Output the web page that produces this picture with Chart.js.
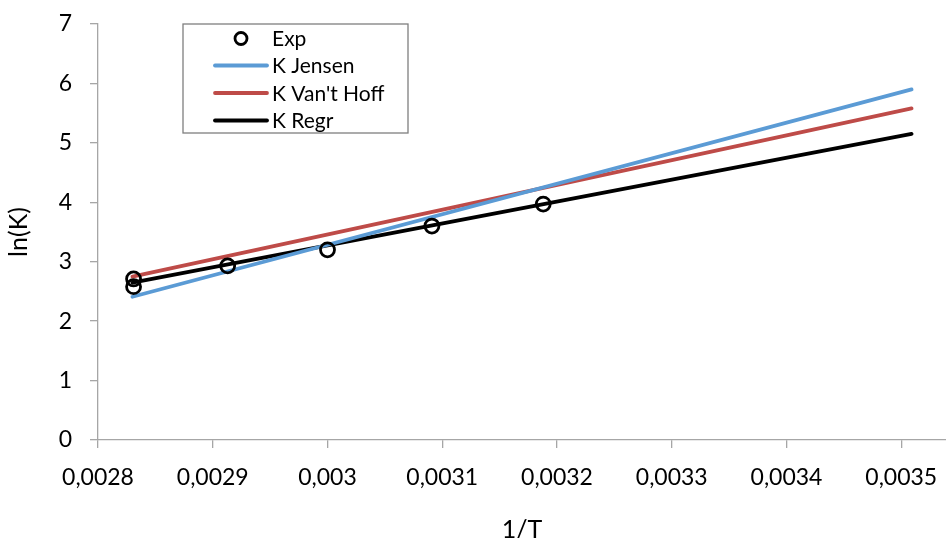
<!DOCTYPE html>
<html>
<head>
<meta charset="utf-8">
<script src="https://cdn.jsdelivr.net/npm/chart.js@4.4.1/dist/chart.umd.min.js"></script>
<style>
  html, body { margin: 0; padding: 0; background: #fff; }
  #wrap { width: 946px; height: 538px; position: relative; }
</style>
</head>
<body>
<div id="wrap"><canvas id="kChart"></canvas></div>
<script>
// measured points
const expX = [0.002831, 0.002831, 0.002913, 0.003, 0.003091, 0.003188];
const expY = [2.71, 2.58, 2.93, 3.20, 3.60, 3.97];

// fitted lines, evaluated at both ends of the range
const fitX      = [0.00283, 0.003509];
const jensenY   = [2.41, 5.90];
const vantHoffY = [2.75, 5.58];
const regrY     = [2.65, 5.15];

const xMin = 0.0028, xMax = 0.003539, xStep = 0.0001;
const yMin = 0, yMax = 7, yStep = 1;

const FONT = "Lato";
const AXIS_GREY = "#a6a6a6";

const pts = (xs, ys) => xs.map((x, i) => ({ x, y: ys[i] }));

function lineSet(label, color, ys) {
  return {
    label,
    data: pts(fitX, ys),
    borderColor: color,
    backgroundColor: color,
    borderWidth: 3.8,
    pointRadius: 0,
    showLine: true,
    borderCapStyle: "round",
    tension: 0,
  };
}

// legend drawn as a framed box inside the plot area
const boxLegend = {
  id: "boxLegend",
  afterDraw(chart) {
    const ctx = chart.ctx;
    const box = { x: 183, y: 24, w: 225, h: 109 };
    const rowY = [38.5, 65.5, 93, 120.5];
    ctx.save();
    ctx.fillStyle = "#fff";
    ctx.fillRect(box.x, box.y, box.w, box.h);
    ctx.strokeStyle = "#7f7f7f";
    ctx.lineWidth = 1.3;
    ctx.strokeRect(box.x, box.y, box.w, box.h);
    chart.data.datasets.forEach((ds, i) => {
      const y = rowY[i];
      if (ds.showLine) {
        ctx.strokeStyle = ds.borderColor;
        ctx.lineWidth = ds.borderWidth;
        ctx.lineCap = "round";
        ctx.beginPath();
        ctx.moveTo(215, y);
        ctx.lineTo(267, y);
        ctx.stroke();
      } else {
        ctx.strokeStyle = ds.borderColor;
        ctx.lineWidth = 2.8;
        ctx.beginPath();
        ctx.arc(241, y, 6, 0, Math.PI * 2);
        ctx.stroke();
      }
      ctx.fillStyle = "#000";
      ctx.font = `21px ${FONT}`;
      ctx.textBaseline = "middle";
      ctx.fillText(ds.label, 272, y + 1);
    });
    ctx.restore();
  },
};

const fmtTick = v => parseFloat(v.toFixed(4)).toString().replace(".", ",");

// keep the plot area flush with the canvas edges
const noEdgePad = s => {
  s.paddingLeft = 0; s.paddingRight = 0;
  s.paddingTop = 0;  s.paddingBottom = 0;
};

new Chart(document.getElementById("kChart").getContext("2d"), {
  type: "scatter",
  data: {
    datasets: [
      {
        label: "Exp",
        data: pts(expX, expY),
        showLine: false,
        borderColor: "#000",
        backgroundColor: "rgba(0,0,0,0)",
        borderWidth: 2.8,
        pointRadius: 7,
        pointStyle: "circle",
      },
      lineSet("K Jensen",     "#5b9bd5", jensenY),
      lineSet("K Van't Hoff", "#be4b48", vantHoffY),
      lineSet("K Regr",       "#000000", regrY),
    ],
  },
  options: {
    responsive: true,
    maintainAspectRatio: false,
    devicePixelRatio: 1,
    animation: false,
    layout: { autoPadding: false, padding: { top: 24, right: 0, left: 0, bottom: 0 } },
    plugins: {
      legend: { display: false },
      tooltip: { enabled: false },
    },
    scales: {
      x: {
        type: "linear",
        min: xMin,
        max: xMax,
        afterFit: s => { s.height = 98; noEdgePad(s); },
        border: { display: true, color: AXIS_GREY, width: 1.3 },
        grid: { display: true, drawOnChartArea: false, drawTicks: true, tickLength: 8, color: AXIS_GREY, lineWidth: 1.3 },
        ticks: {
          stepSize: xStep,
          includeBounds: false,
          maxRotation: 0,
          autoSkip: false,
          padding: 16,
          color: "#000",
          font: { family: FONT, size: 23 },
          callback: fmtTick,
        },
        title: {
          display: true,
          text: "1/T",
          color: "#000",
          font: { family: FONT, size: 25 },
          padding: { top: 0, bottom: -7 },
        },
      },
      y: {
        min: yMin,
        max: yMax,
        afterFit: s => { s.width = 98; noEdgePad(s); },
        border: { display: true, color: AXIS_GREY, width: 1.3 },
        grid: { display: true, drawOnChartArea: false, drawTicks: true, tickLength: 8, color: AXIS_GREY, lineWidth: 1.3 },
        ticks: {
          stepSize: yStep,
          padding: 18,
          color: "#000",
          font: { family: FONT, size: 23 },
        },
        title: {
          display: true,
          text: "ln(K)",
          color: "#000",
          font: { family: FONT, size: 25 },
          padding: { top: 4, bottom: 0 },
        },
      },
    },
  },
  plugins: [boxLegend],
});
</script>
</body>
</html>
